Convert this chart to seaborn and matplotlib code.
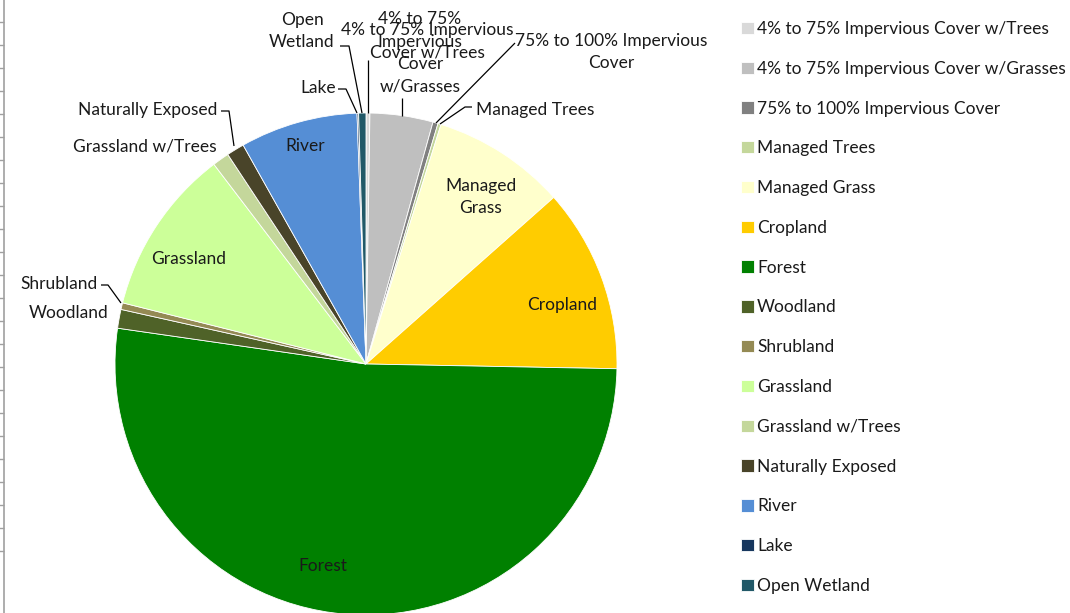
import numpy as np
import matplotlib
matplotlib.use("Agg")
import matplotlib.pyplot as plt
import seaborn as sns

categories = [
    "4% to 75% Impervious Cover w/Trees",
    "4% to 75% Impervious Cover w/Grasses",
    "75% to 100% Impervious Cover",
    "Managed Trees",
    "Managed Grass",
    "Cropland",
    "Forest",
    "Woodland",
    "Shrubland",
    "Grassland",
    "Grassland w/Trees",
    "Naturally Exposed",
    "River",
    "Lake",
    "Open Wetland",
]
values = [0.25, 4.05, 0.33, 0.20, 8.62, 11.85, 51.98, 1.21, 0.43, 10.72, 1.08, 1.14, 7.57, 0.10, 0.47]
colors = ["#D9D9D9", "#BFBFBF", "#808080", "#C4D79B", "#FFFFCC", "#FFCC00", "#008000",
          "#4F6228", "#948A54", "#CCFF99", "#C4D79B", "#494429", "#558ED5", "#17375E", "#215968"]

sns.set_theme(style="white")
plt.rcParams["font.family"] = ["Lato", "DejaVu Sans"]
FS = 12.5
TXT = "#1a1a1a"

W, H = 1070, 613
fig = plt.figure(figsize=(W / 100, H / 100), dpi=100)
fig.patch.set_facecolor("white")

# spreadsheet-edge artifact on the left
ax0 = fig.add_axes([4 / W, 0, 0.0005, 1])
ax0.set_ylim(0, H)
for s in ["top", "right", "bottom"]:
    ax0.spines[s].set_visible(False)
ax0.spines["left"].set_color("#A0A0A0")
ax0.spines["left"].set_linewidth(1.2)
ax0.set_xticks([])
ax0.set_yticks(H - (21.7 + 23.03 * np.arange(24)))
ax0.tick_params(axis="y", direction="out", length=4, width=1, color="#A0A0A0", labelleft=False, left=True)

ax = fig.add_axes([0, 0, 1, 1])
def Y(y):
    return H - y

wedges, _ = ax.pie(values, colors=colors, startangle=90, counterclock=False,
                   center=(366, Y(364)), radius=251,
                   wedgeprops=dict(linewidth=0.6, edgecolor="white"))
ax.set_xlim(0, W)
ax.set_ylim(0, H)
ax.set_aspect("equal")
ax.axis("off")

def label(txt, x, y, **kw):
    ax.text(x, Y(y), txt, ha="center", va="center", fontsize=FS, color=TXT, linespacing=1.5, **kw)

def leader(pts):
    xs = [p[0] for p in pts]
    ys = [Y(p[1]) for p in pts]
    ax.plot(xs, ys, color="black", lw=0.9, solid_capstyle="butt")

# inside labels
label("River", 305, 146)
label("Grassland", 189, 259)
label("Managed\nGrass", 481, 197)
label("Cropland", 562, 305)
label("Forest", 323, 566)

# outside labels
label("Woodland", 69, 313)
label("Shrubland", 59, 284)
leader([(101, 285), (108, 285), (121, 303)])
label("Grassland w/Trees", 145, 146)
label("Naturally Exposed", 148, 110)
leader([(221, 111), (229, 111), (234, 146)])
label("Lake", 318, 88)
leader([(338, 89), (346, 89), (357, 113)])
label("Open\nWetland", 302, 31)
leader([(340, 46), (349, 46), (362, 113)])
label("4% to 75%\nImpervious\nCover\nw/Grasses", 420, 53)
leader([(402, 98), (402, 116)])
label("4% to 75% Impervious\nCover w/Trees", 427, 41)
leader([(368, 60), (368, 113)])
label("75% to 100% Impervious\nCover", 611, 52)
leader([(515, 43), (436, 123)])
label("Managed Trees", 535, 110)
leader([(472, 107), (465, 107), (440, 124)])

leg = fig.legend(wedges, categories, loc="upper left",
                 bbox_to_anchor=(741 / W, 1 - 21 / H), frameon=False,
                 fontsize=FS, handlelength=0.72, handleheight=0.72,
                 handletextpad=0.2, labelspacing=1.37, borderpad=0, borderaxespad=0)
for t in leg.get_texts():
    t.set_color(TXT)

fig.savefig("out.png", dpi=100, facecolor="white")
